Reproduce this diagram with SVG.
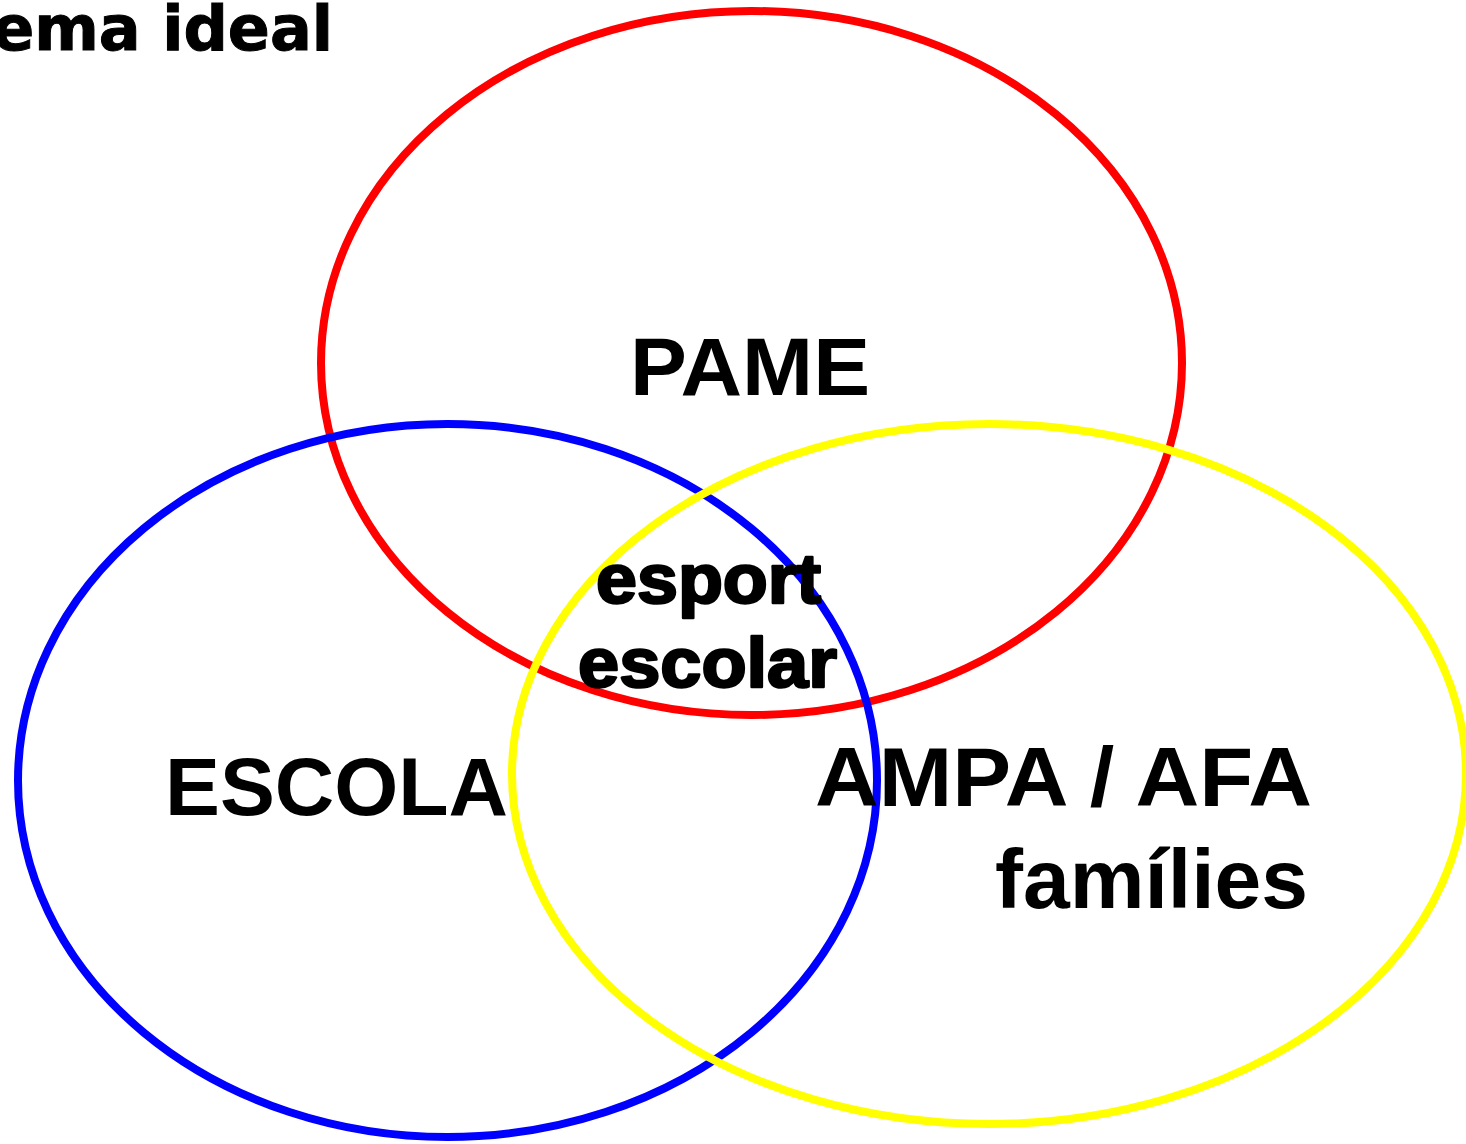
<svg xmlns="http://www.w3.org/2000/svg" width="1466" height="1144" viewBox="0 0 1466 1144">
<style>
.ring{fill:none;stroke-width:8}
.lbl{font-family:"Liberation Sans",Arial,sans-serif;font-weight:bold;fill:#000}
.heavy{stroke:#000;stroke-width:2.5;stroke-linejoin:round}
</style>
<rect width="1466" height="1144" fill="#fff"/>
<text x="333" y="50" font-family="DejaVu Sans, sans-serif" font-weight="bold" font-size="62" text-anchor="end" stroke="#000" stroke-width="1">ema ideal</text>
<g id="pame">
<ellipse class="ring" cx="751.5" cy="363" rx="430.5" ry="352" stroke="#ff0000"/>
<text class="lbl" x="630" y="395" font-size="82" textLength="240" lengthAdjust="spacingAndGlyphs">PAME</text>
</g>
<g id="escola">
<ellipse class="ring" cx="447.5" cy="780.5" rx="429.5" ry="356.5" stroke="#0000ff"/>
<text class="lbl" x="165" y="815" font-size="82" textLength="343" lengthAdjust="spacingAndGlyphs">ESCOLA</text>
</g>
<g id="ampa">
<ellipse class="ring" cx="989" cy="774" rx="477" ry="350" stroke="#ffff00"/>
<text class="lbl" x="815" y="806" font-size="84" textLength="497" lengthAdjust="spacingAndGlyphs">AMPA / AFA</text>
<text class="lbl" x="995" y="908" font-size="84" textLength="313" lengthAdjust="spacingAndGlyphs">famílies</text>
</g>
<g id="esport">
<text class="lbl heavy" x="596" y="603" font-size="70" textLength="225" lengthAdjust="spacingAndGlyphs">esport</text>
<text class="lbl heavy" x="578" y="687" font-size="70" textLength="259" lengthAdjust="spacingAndGlyphs">escolar</text>
</g>
<g id="connectors"/>
</svg>
